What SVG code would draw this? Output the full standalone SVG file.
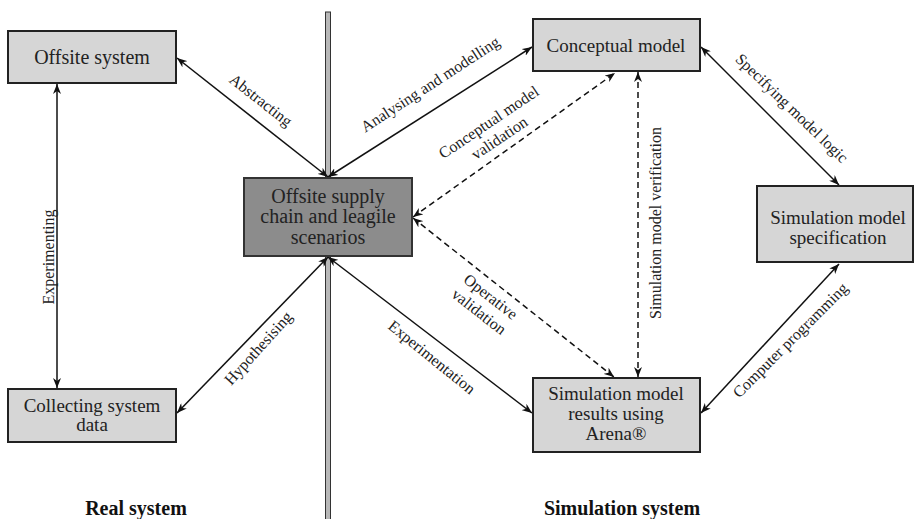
<svg xmlns="http://www.w3.org/2000/svg" width="917" height="519" viewBox="0 0 917 519" font-family="'Liberation Serif', 'DejaVu Serif', serif">
<defs>
<marker id="ah" viewBox="0 0 10 8" markerUnits="userSpaceOnUse" markerWidth="10" markerHeight="8" refX="10" refY="4" orient="auto-start-reverse">
<path d="M0,0 L10,4 L0,8 L3,4 Z" fill="#111"/>
</marker>
<style>
text{font-family:'Liberation Serif','DejaVu Serif',serif}
.box{fill:#d6d6d6;stroke:#222;stroke-width:2}
.dark{fill:#8c8c8c;stroke:#333;stroke-width:2}
.nt{font-size:19px;fill:#222;text-anchor:middle}
.big{font-size:20px}
.lt{font-size:16px;fill:#222;text-anchor:middle}
.ft{font-size:20px;font-weight:bold;fill:#111;text-anchor:middle}
.c{stroke:#111;stroke-width:1.5;fill:none;marker-start:url(#ah);marker-end:url(#ah)}
.d{stroke-dasharray:6 4}
</style>
</defs>
<rect width="917" height="519" fill="#fff"/>
<g id="divider">
<rect x="325.5" y="12" width="5" height="510" fill="#b8b8b8" stroke="#333" stroke-width="1"/>
</g>
<g id="connectors">
<line class="c" x1="57" y1="84" x2="57" y2="388"/>
<line class="c" x1="177" y1="58" x2="328" y2="177"/>
<line class="c" x1="328" y1="177" x2="532" y2="47"/>
<line class="c d" x1="413" y1="217" x2="615" y2="73"/>
<line class="c d" x1="413" y1="218" x2="614" y2="377"/>
<line class="c" x1="328" y1="257" x2="532" y2="413"/>
<line class="c" x1="328" y1="257" x2="177" y2="413"/>
<line class="c d" x1="638" y1="72" x2="638" y2="377"/>
<line class="c" x1="701" y1="47" x2="839" y2="185"/>
<line class="c" x1="701" y1="413" x2="839" y2="264"/>
<g id="labels">
<text class="lt" transform="translate(48,257) rotate(-90)" dy="0.35em">Experimenting</text>
<text class="lt" transform="translate(261,100) rotate(38)" dy="0.35em">Abstracting</text>
<text class="lt" transform="translate(430,84) rotate(-33)" dy="0.35em">Analysing and modelling</text>
<text class="lt" transform="translate(494,130) rotate(-34)"><tspan x="0" y="-4">Conceptual model</tspan><tspan x="0" y="15">validation</tspan></text>
<text class="lt" transform="translate(485,304) rotate(38)"><tspan x="0" y="-4">Operative</tspan><tspan x="0" y="15">validation</tspan></text>
<text class="lt" transform="translate(432,357) rotate(39)" dy="0.35em">Experimentation</text>
<text class="lt" transform="translate(258,348) rotate(-48)" dy="0.35em">Hypothesising</text>
<text class="lt" transform="translate(655,223) rotate(-90)" dy="0.35em">Simulation model verification</text>
<text class="lt" transform="translate(792,108) rotate(44)" dy="0.35em">Specifying model logic</text>
<text class="lt" transform="translate(790,340) rotate(-45)" dy="0.35em">Computer programming</text>
</g>
</g>
<g id="offsite-system">
<rect class="box" x="8" y="31" width="168" height="52"/>
<text class="nt big" x="92" y="64">Offsite system</text>
</g>
<g id="collecting-data">
<rect class="box" x="8" y="389" width="168" height="53"/>
<text class="nt" x="92" y="412">Collecting system</text>
<text class="nt" x="92" y="431">data</text>
</g>
<g id="central">
<rect class="dark" x="244" y="178" width="168" height="78"/>
<text class="nt big" x="328" y="203">Offsite supply</text>
<text class="nt big" x="328" y="223">chain and leagile</text>
<text class="nt big" x="328" y="244">scenarios</text>
</g>
<g id="conceptual-model">
<rect class="box" x="533" y="19" width="167" height="52"/>
<text class="nt" x="616" y="52">Conceptual model</text>
</g>
<g id="sim-spec">
<rect class="box" x="757" y="186" width="156" height="76"/>
<text class="nt" x="838" y="224">Simulation model</text>
<text class="nt" x="838" y="244">specification</text>
</g>
<g id="sim-results">
<rect class="box" x="533" y="378" width="167" height="74"/>
<text class="nt" x="616" y="400">Simulation model</text>
<text class="nt" x="616" y="420">results using</text>
<text class="nt" x="616" y="440">Arena®</text>
</g>
<g id="footer">
<text class="ft" x="136" y="515">Real system</text>
<text class="ft" x="622" y="515">Simulation system</text>
</g>
</svg>
